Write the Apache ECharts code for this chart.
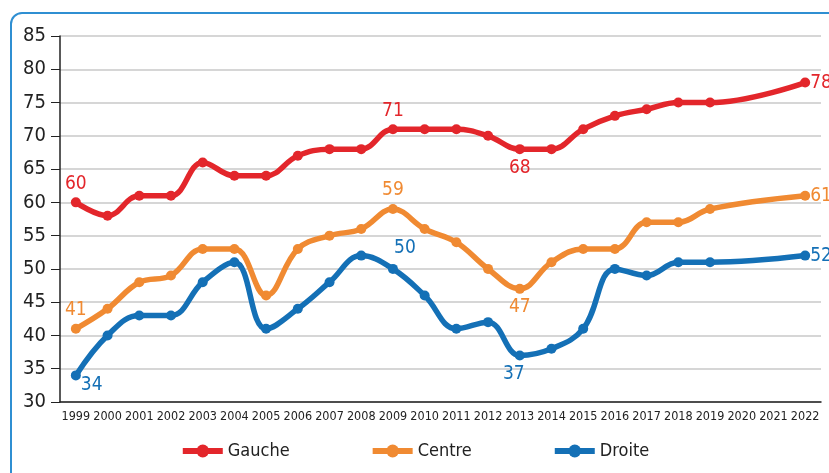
<!DOCTYPE html>
<html>
<head>
<meta charset="utf-8">
<script src="https://cdn.jsdelivr.net/npm/echarts@6/dist/echarts.min.js"></script>
<style>
  html, body { margin: 0; padding: 0; background: #fff; }
  #frame {
    position: absolute; left: 10px; top: 12px; width: 840px; height: 480px;
    border: 2px solid #2f8fd2; border-radius: 12px; box-sizing: border-box;
  }
  #chart { position: absolute; left: 0; top: 0; width: 829px; height: 473px; }
</style>
</head>
<body>
<div id="frame"></div>
<div id="chart"></div>
<script>
const years = ['1999', '2000', '2001', '2002', '2003', '2004', '2005', '2006', '2007', '2008', '2009', '2010',
  '2011', '2012', '2013', '2014', '2015', '2016', '2017', '2018', '2019', '2020', '2021', '2022'];
const gauche = [60, 58, 61, 61, 66, 64, 64, 67, 68, 68, 71, 71, 71, 70, 68, 68, 71, 73, 74, 75, 75, null, null, 78];
const centre = [41, 44, 48, 49, 53, 53, 46, 53, 55, 56, 59, 56, 54, 50, 47, 51, 53, 53, 57, 57, 59, null, null, 61];
const droite = [34, 40, 43, 43, 48, 51, 41, 44, 48, 52, 50, 46, 41, 42, 37, 38, 41, 50, 49, 51, 51, null, null, 52];

const colors = ['#e3262b', '#f08a32', '#1470b6'];
const font = '"DejaVu Sans Condensed", "Liberation Sans Narrow", "Liberation Sans", sans-serif';

// which points carry a value label, and where
const labelPos = [
  { 0: { position: 'top' }, 10: { position: 'top' }, 14: { position: 'bottom' }, 23: { position: 'right', offset: [-4, 0] } },
  { 0: { position: 'top' }, 10: { position: 'top' }, 14: { position: 'bottom' }, 23: { position: 'right', offset: [-4, 0] } },
  { 0: { position: 'right', offset: [-4, 10] }, 10: { position: 'top', offset: [12, -2] }, 14: { position: 'bottom', offset: [-6, 0] }, 23: { position: 'right', offset: [-4, 0] } }
];

const makeData = (arr, idx) => arr.map((v, i) => {
  const lp = labelPos[idx][i];
  if (!lp || v == null) return v;
  return {
    value: v,
    label: Object.assign({ show: true, color: colors[idx], fontSize: 19, fontFamily: font, distance: 4 }, lp)
  };
});

const makeSeries = (name, arr, idx) => ({
  name: name,
  type: 'line',
  smooth: 0.4,
  connectNulls: true,
  symbol: 'circle',
  symbolSize: 10,
  itemStyle: { color: colors[idx] },
  lineStyle: { width: 5.5, color: colors[idx] },
  label: { show: false },
  data: makeData(arr, idx)
});

const chart = echarts.init(document.getElementById('chart'));
chart.setOption({
  backgroundColor: 'transparent',
  animation: false,
  color: colors,
  grid: { left: 60, right: 8, top: 36, bottom: 71 },
  legend: {
    bottom: 8,
    left: 'center',
    itemWidth: 40,
    itemHeight: 16,
    itemGap: 80,
    lineStyle: { width: 6 },
    textStyle: { fontSize: 18, color: '#222', fontFamily: font },
    data: ['Gauche', 'Centre', 'Droite']
  },
  xAxis: {
    type: 'category',
    data: years,
    boundaryGap: true,
    axisLine: { lineStyle: { color: '#222', width: 1.5 } },
    axisTick: { show: false },
    axisLabel: { interval: 0, color: '#222', fontSize: 12.5, fontFamily: font, margin: 8 }
  },
  yAxis: {
    type: 'value',
    min: 30,
    max: 85,
    interval: 5,
    axisLine: { show: true, lineStyle: { color: '#222', width: 1.5 } },
    axisTick: { show: true, length: 9, lineStyle: { color: '#222' } },
    axisLabel: { color: '#222', fontSize: 20, fontFamily: font, margin: 14 },
    splitLine: { lineStyle: { color: '#c8c8c8', width: 1.5 } }
  },
  series: [
    makeSeries('Gauche', gauche, 0),
    makeSeries('Centre', centre, 1),
    makeSeries('Droite', droite, 2)
  ]
});
</script>
</body>
</html>
